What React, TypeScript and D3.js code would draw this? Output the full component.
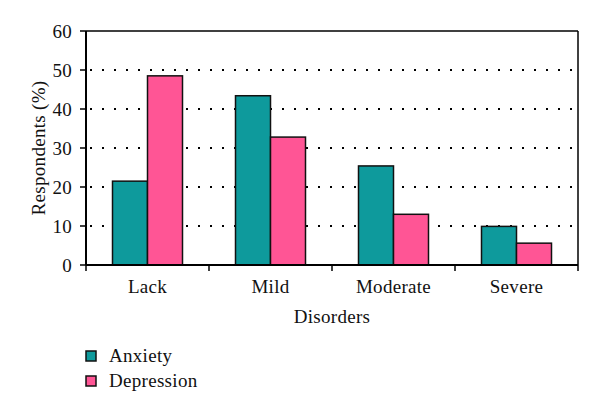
import React from "react";
import * as d3 from "d3";

const categories = ["Lack", "Mild", "Moderate", "Severe"];
const seriesNames = ["Anxiety", "Depression"];
const anxiety = [21.5, 43.4, 25.4, 9.9];
const depression = [48.5, 32.8, 13.0, 5.6];
const yTicks = [0, 10, 20, 30, 40, 50, 60];
const colors = ["#0e9a9c", "#ff5595"];

const W = 600, H = 412;
const left = 86, right = 578, top = 31, bottom = 265;
const font = "Liberation Serif";
const ts: React.CSSProperties = { fontFamily: font, fontSize: "19px", letterSpacing: "0.3px" };

export default function App() {
  const x = d3.scaleBand<string>().domain(categories).range([left, right]);
  const y = d3.scaleLinear().domain([0, 60]).range([bottom, top]);
  const inner = d3.scaleBand<string>().domain(seriesNames).range([0, 70]);
  const values = [anxiety, depression];
  const boundaries = [left, ...categories.map((c) => (x(c) as number) + x.bandwidth())];

  return (
    <svg width={W} height={H} style={{ position: "absolute", left: 0, top: 0, background: "#fff" }}>
      <rect x={0} y={0} width={W} height={H} fill="#fff" />
      {yTicks.filter((t) => t > 0 && t < 60).map((t) => (
        <line key={"g" + t} x1={left + 4} x2={right} y1={y(t)} y2={y(t)} stroke="#000" strokeWidth={2} strokeDasharray="2,10" />
      ))}
      {categories.map((c, i) =>
        seriesNames.map((s, j) => {
          const bx = (x(c) as number) + (x.bandwidth() - 70) / 2 + (inner(s) as number);
          return (
            <rect key={c + s} x={bx} y={y(values[j][i])} width={inner.bandwidth()} height={bottom - y(values[j][i])}
              fill={colors[j]} stroke="#111" strokeWidth={1.5} />
          );
        })
      )}
      <line x1={left} x2={right} y1={top} y2={top} stroke="#000" strokeWidth={1.5} />
      <line x1={right} x2={right} y1={top} y2={bottom} stroke="#000" strokeWidth={1.5} />
      <line x1={left} x2={left} y1={top} y2={bottom} stroke="#000" strokeWidth={2} />
      <line x1={left} x2={right} y1={bottom} y2={bottom} stroke="#000" strokeWidth={2} />
      {yTicks.map((t) => (
        <g key={"t" + t}>
          <line x1={left - 6} x2={left} y1={y(t)} y2={y(t)} stroke="#000" strokeWidth={1.5} />
          <text x={72} y={y(t)} dy="0.35em" textAnchor="end" style={ts} fill="#111">{t}</text>
        </g>
      ))}
      {boundaries.map((b, i) => (
        <line key={"b" + i} x1={b} x2={b} y1={bottom} y2={bottom + 6} stroke="#000" strokeWidth={1.5} />
      ))}
      {categories.map((c) => (
        <text key={"c" + c} x={(x(c) as number) + x.bandwidth() / 2} y={293} textAnchor="middle" style={ts} fill="#111">{c}</text>
      ))}
      <text x={(left + right) / 2} y={323} textAnchor="middle" style={ts} fill="#111">Disorders</text>
      <text transform={`translate(45, ${(top + bottom) / 2}) rotate(-90)`} textAnchor="middle" style={ts} fill="#111">Respondents (%)</text>
      {seriesNames.map((s, j) => (
        <g key={"l" + s}>
          <rect x={86} y={351 + j * 25} width={10} height={10} fill={colors[j]} stroke="#111" strokeWidth={1.5} />
          <text x={109} y={362 + j * 25} style={ts} fill="#111">{s}</text>
        </g>
      ))}
    </svg>
  );
}
